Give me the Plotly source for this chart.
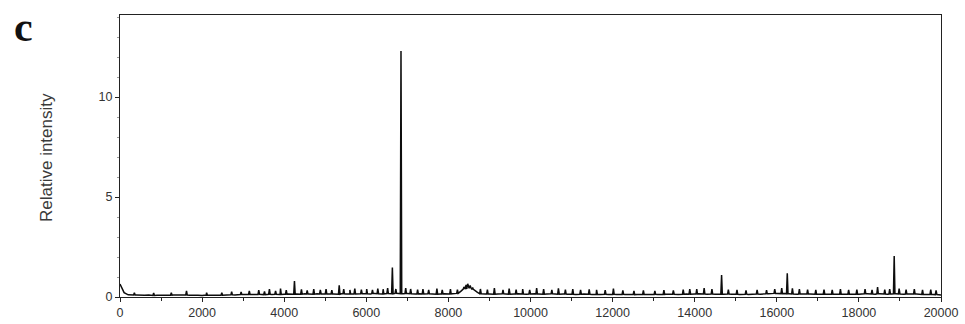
import plotly.graph_objects as go

# Smooth baseline intensity sampled every 100 m/z units, from 0 to 20000
baseline_step = 100
baseline = [
    0.65, 0.22, 0.11, 0.09, 0.10, 0.08, 0.09, 0.10, 0.08, 0.09,
    0.10, 0.08, 0.09, 0.10, 0.09, 0.08, 0.10, 0.09, 0.10, 0.09,
    0.08, 0.10, 0.09, 0.10, 0.11, 0.09, 0.10, 0.11, 0.10, 0.11,
    0.12, 0.11, 0.13, 0.12, 0.13, 0.12, 0.14, 0.13, 0.14, 0.13,
    0.14, 0.15, 0.14, 0.15, 0.14, 0.16, 0.15, 0.14, 0.16, 0.15,
    0.15, 0.16, 0.15, 0.14, 0.16, 0.15, 0.16, 0.15, 0.17, 0.16,
    0.16, 0.15, 0.17, 0.16, 0.15, 0.17, 0.16, 0.18, 0.17, 0.16,
    0.17, 0.16, 0.15, 0.16, 0.15, 0.16, 0.15, 0.14, 0.15, 0.16,
    0.15, 0.16, 0.18, 0.28, 0.40, 0.46, 0.38, 0.24, 0.16, 0.15,
    0.15, 0.14, 0.15, 0.16, 0.15, 0.14, 0.15, 0.16, 0.15, 0.14,
    0.15, 0.16, 0.15, 0.14, 0.15, 0.16, 0.15, 0.14, 0.15, 0.14,
    0.14, 0.13, 0.14, 0.15, 0.14, 0.13, 0.14, 0.13, 0.14, 0.13,
    0.13, 0.12, 0.13, 0.12, 0.13, 0.12, 0.13, 0.12, 0.13, 0.12,
    0.13, 0.12, 0.13, 0.14, 0.13, 0.14, 0.13, 0.14, 0.15, 0.14,
    0.15, 0.16, 0.15, 0.14, 0.15, 0.14, 0.15, 0.14, 0.15, 0.14,
    0.14, 0.13, 0.14, 0.13, 0.14, 0.15, 0.14, 0.15, 0.16, 0.17,
    0.18, 0.17, 0.18, 0.16, 0.15, 0.14, 0.15, 0.14, 0.15, 0.14,
    0.14, 0.15, 0.14, 0.13, 0.14, 0.15, 0.14, 0.13, 0.14, 0.15,
    0.14, 0.15, 0.16, 0.15, 0.14, 0.16, 0.15, 0.14, 0.15, 0.16,
    0.15, 0.14, 0.15, 0.14, 0.15, 0.14, 0.13, 0.14, 0.13, 0.12,
    0.10,
]

# Small noise spikes riding on the baseline
noise_mz = [
    350, 820, 1250, 1620, 2110, 2480, 2720, 2950,
    3150, 3380, 3520, 3640, 3790, 3910, 4050, 4420, 4560, 4720, 4880,
    5020, 5160, 5450, 5600, 5720, 5880, 6010, 6150, 6280, 6410, 6520, 6720,
    6960, 7080, 7250, 7380, 7520, 7720, 7850, 8050, 8220,
    8380, 8430, 8470, 8530, 8590,
    8780, 8950, 9120, 9330, 9480, 9650, 9810, 9980,
    10150, 10320, 10520, 10680, 10850, 11030, 11220, 11430, 11610, 11820,
    12020, 12250, 12520, 12750, 13030, 13250, 13480, 13720, 13880,
    14050, 14230, 14420, 14820, 15030, 15250, 15520, 15750, 15950,
    16120, 16380, 16550, 16750, 16950, 17150, 17350, 17550, 17750, 17950,
    18150, 18320, 18630, 18750, 18980, 19150, 19350, 19550, 19750, 19880,
]
noise_height = [
    0.22, 0.20, 0.21, 0.30, 0.22, 0.21, 0.27, 0.25,
    0.30, 0.34, 0.28, 0.40, 0.30, 0.42, 0.34, 0.38, 0.33, 0.40, 0.35,
    0.40, 0.34, 0.40, 0.35, 0.42, 0.37, 0.40, 0.36, 0.42, 0.39, 0.44, 0.40,
    0.45, 0.40, 0.37, 0.40, 0.35, 0.42, 0.36, 0.40, 0.37,
    0.50, 0.60, 0.66, 0.58, 0.48,
    0.40, 0.37, 0.45, 0.36, 0.42, 0.37, 0.40, 0.36,
    0.44, 0.40, 0.36, 0.43, 0.37, 0.40, 0.35, 0.38, 0.36, 0.34,
    0.42, 0.33, 0.31, 0.33, 0.31, 0.34, 0.33, 0.37, 0.40,
    0.40, 0.44, 0.40, 0.37, 0.35, 0.33, 0.36, 0.34, 0.40,
    0.44, 0.43, 0.40, 0.37, 0.36, 0.37, 0.36, 0.40, 0.36, 0.37,
    0.40, 0.36, 0.37, 0.40, 0.42, 0.37, 0.40, 0.36, 0.37, 0.33,
]

# Resolved peaks: m/z and relative intensity at the apex
peak_mz = [4250, 5340, 6635, 6845, 14655, 16255, 18455, 18860]
peak_height = [0.80, 0.58, 1.48, 12.30, 1.10, 1.18, 0.50, 2.05]
peak_half_width = 18

x_ticks = [0, 2000, 4000, 6000, 8000, 10000, 12000, 14000, 16000, 18000, 20000]
y_ticks = [0, 5, 10]

# Merge baseline samples, noise spikes and peaks into a single spectrum trace
points = [(i * baseline_step, v) for i, v in enumerate(baseline)]
for mz, h in zip(noise_mz + peak_mz, noise_height + peak_height):
    base = baseline[round(mz / baseline_step)]
    points += [(mz - peak_half_width, base), (mz, h), (mz + peak_half_width, base)]
points.sort(key=lambda p: p[0])
mz_all = [p[0] for p in points]
inten_all = [p[1] for p in points]

fig = go.Figure(
    go.Scatter(
        x=mz_all,
        y=inten_all,
        mode="lines",
        line=dict(color="#0d0d0d", width=1.5),
        hoverinfo="skip",
    )
)

axis_font = dict(family="Liberation Sans, Arial, sans-serif", size=12.5, color="#333333")

fig.update_layout(
    width=965,
    height=324,
    margin=dict(l=120, r=24, t=15, b=27),
    paper_bgcolor="white",
    plot_bgcolor="white",
    showlegend=False,
    xaxis=dict(
        range=[0, 20000],
        tickvals=x_ticks,
        ticktext=[str(v) for v in x_ticks],
        ticks="outside",
        ticklen=4,
        tickcolor="#222222",
        showline=True,
        linecolor="#222222",
        linewidth=1.2,
        mirror=True,
        showgrid=False,
        zeroline=False,
        automargin=False,
        tickfont=axis_font,
        minor=dict(dtick=1000, ticks="outside", ticklen=3, tickcolor="#222222"),
    ),
    yaxis=dict(
        range=[0, 14.1],
        tickvals=y_ticks,
        ticktext=[str(v) for v in y_ticks],
        ticks="outside",
        ticklen=4,
        tickcolor="#222222",
        showline=True,
        linecolor="#222222",
        linewidth=1.2,
        mirror=True,
        showgrid=False,
        zeroline=False,
        automargin=False,
        tickfont=axis_font,
        minor=dict(dtick=1, ticks="outside", ticklen=2, tickcolor="#999999"),
    ),
    annotations=[
        dict(
            text="Relative intensity",
            xref="paper", yref="paper",
            x=(46 - 120) / 821, y=(297 - 158) / 282,
            xanchor="center", yanchor="middle",
            textangle=-90,
            showarrow=False,
            font=dict(family="Liberation Sans, Arial, sans-serif", size=17, color="#3a3a3a"),
        ),
        dict(
            text="<b>c</b>",
            xref="paper", yref="paper",
            x=(23 - 120) / 821, y=(297 - 27) / 282,
            xanchor="center", yanchor="middle",
            showarrow=False,
            font=dict(family="Liberation Serif, Times New Roman, serif", size=42, color="#111111"),
        ),
    ],
)

fig.write_html("out.html")
